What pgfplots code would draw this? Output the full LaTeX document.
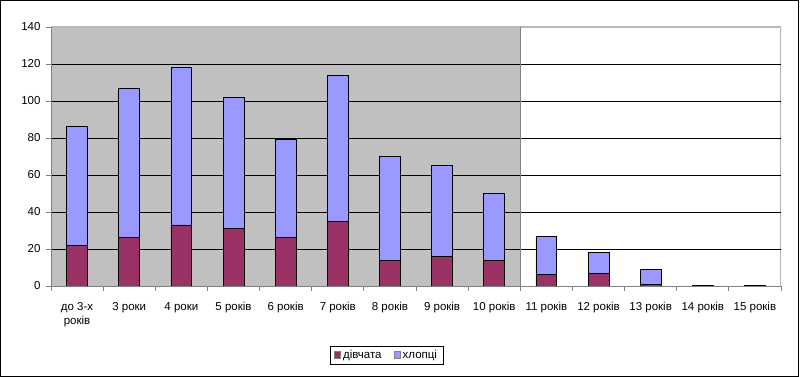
\documentclass[border=0pt]{standalone}
\usepackage{pgfplots}
\pgfplotsset{compat=1.18}
\usepackage{fontspec}
\setmainfont{Liberation Sans}
\definecolor{girls}{HTML}{993366}
\definecolor{boys}{HTML}{9999FF}
\definecolor{bgc}{HTML}{C0C0C0}
\definecolor{axc}{HTML}{808080}
\definecolor{brd}{HTML}{B8B8B8}
\pgfplotsset{common/.style={
  at={(51pt,91pt)}, anchor=south west,
  scale only axis, width=730pt, height=259pt,
  xmin=-0.5, xmax=13.5, ymin=0, ymax=140}}
\begin{document}
\begin{tikzpicture}[x=1pt,y=1pt]
\path (0,0) rectangle (800,377);
\draw[line width=1.2pt] (0.6,0.6) rectangle (798.4,376.4);
\begin{axis}[common, axis lines=none, xtick=\empty, ytick=\empty]
\fill[bgc] (axis cs:-0.5,0) rectangle (axis cs:8.5,140);
\draw[brd, line width=1.2pt] (axis cs:-0.5,140) -- (axis cs:13.5,140) -- (axis cs:13.5,0);
\end{axis}
\begin{axis}[common,
  ybar stacked, bar width=0.4,
  xtick={0,...,13},
  xticklabels={{до 3-х\\років},3 роки,4 роки,5 років,6 років,7 років,8 років,9 років,10 років,11 років,12 років,13 років,14 років,15 років},
  major x tick style={draw=none},
  minor xtick={-0.5,0.5,...,13.5},
  minor tick length=5pt, major tick length=5pt,
  tick align=outside,
  ytick={0,20,...,120},
  extra y ticks={140}, extra y tick style={grid=none},
  /pgf/number format/assume math mode=true,
  ymajorgrids, grid style={black, line width=0.7pt},
  axis x line*=bottom, axis y line*=left,
  axis line style={axc, line width=0.9pt, -},
  tick style={axc, line width=0.9pt},
  every tick label/.append style={font=\fontsize{11.5}{13.5}\selectfont},
  xticklabel style={align=center, yshift=-8pt},
  yticklabel style={xshift=-2pt},
  legend columns=2,
  legend style={at={(0.4596,-0.266)}, anchor=center, draw=black, line width=0.6pt,
    font=\fontsize{11.5}{13.5}\selectfont, inner xsep=4pt, inner ysep=2pt,
    /tikz/every even column/.append style={column sep=10pt}},
  legend image code/.code={\draw[#1, draw=axc, line width=0.6pt] (0pt,-3.2pt) rectangle (6.5pt,3.2pt);},
]
\draw[axc, line width=1.3pt] (axis cs:8.5,0) -- (axis cs:8.5,140);
\addplot[fill=girls, draw=black, line width=0.8pt] coordinates {
(0,22) (1,26) (2,33) (3,31) (4,26) (5,35) (6,14) (7,16) (8,14) (9,6) (10,7) (11,1) (12,0) (13,0)};
\addplot[fill=boys, draw=black, line width=0.8pt] coordinates {
(0,64) (1,81) (2,85) (3,71) (4,53) (5,79) (6,56) (7,49) (8,36) (9,21) (10,11) (11,8) (12,0.5) (13,0.5)};
\legend{дівчата, хлопці}
\end{axis}
\end{tikzpicture}
\end{document}
